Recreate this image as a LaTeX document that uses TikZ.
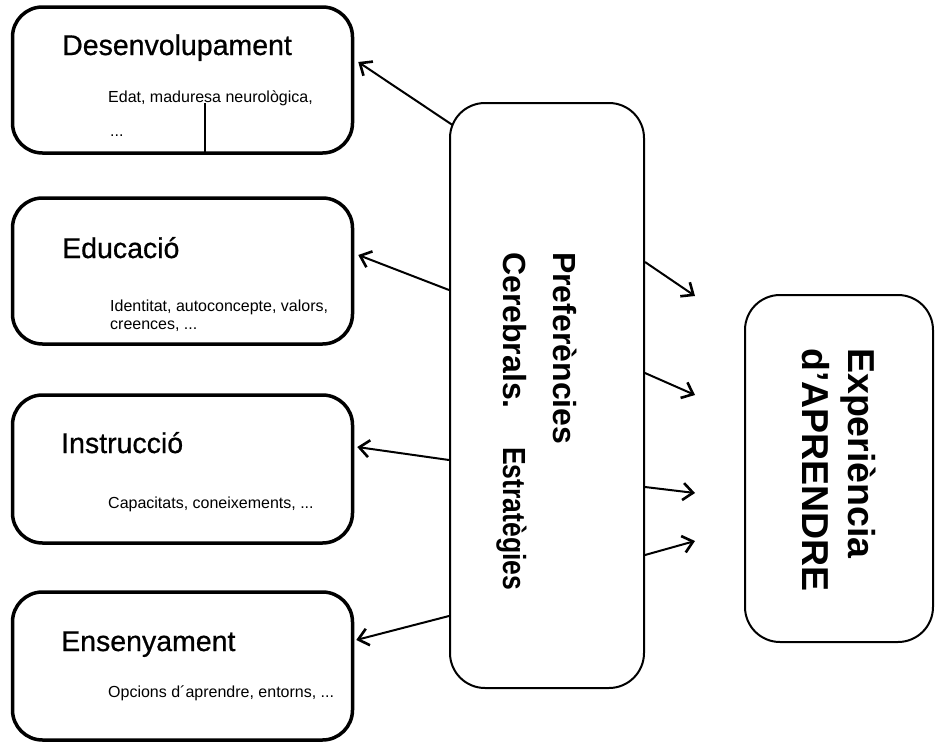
\documentclass[tikz,border=0pt]{standalone}
\usepackage{fontspec}
\setmainfont{Liberation Sans}
\newfontfamily\headfont{Liberation Sans}[FakeBold=0.7]
\usetikzlibrary{arrows.meta,calc}
\begin{document}
\begin{tikzpicture}[x=1pt,y=-1pt,
  factor/.style={draw, line width=3.5pt, rounded corners=30pt, inner sep=0pt, minimum width=340pt},
  hub/.style={draw, line width=2pt, rounded corners=35pt, inner sep=0pt},
  title/.style={anchor=base west, inner sep=0pt, font=\headfont\fontsize{28.5}{30}\selectfont},
  detail/.style={anchor=base west, inner sep=0pt, font=\fontsize{16}{18}\selectfont},
  vlabel/.style={anchor=base west, inner sep=0pt, rotate=-90},
  link/.style={line width=2pt, -{Straight Barb[length=10pt,width=17pt,line width=2.6pt]}}
]
\useasboundingbox (0,0) rectangle (935,742);

% four factor boxes on the left
\node[factor, minimum height=146pt] (b1) at (182.5,80) {};
\node[factor, minimum height=146pt] (b2) at (182.5,271) {};
\node[factor, minimum height=148pt] (b3) at (182.5,469) {};
\node[factor, minimum height=148pt] (b4) at (182.5,666) {};

% central box and the outcome box
\node[hub, minimum width=194pt, minimum height=585pt] (mid) at (547,395.5) {};
\node[hub, minimum width=188pt, minimum height=347pt] (goal) at (839,468.5) {};

% box titles and details
\node[title] (t1) at (62,55) {Desenvolupament};
\node[detail] (s1) at (108,102) {Edat, maduresa neurològica,};
\node[detail] (s1b) at (110,136) {...};
\node[title] (t2) at (62,258) {Educació};
\node[detail] (s2) at (110,311) {Identitat, autoconcepte, valors,};
\node[detail] (s2b) at (110,329) {creences, ...};
\node[title] (t3) at (61,453) {Instrucció};
\node[detail] (s3) at (108,508) {Capacitats, coneixements, ...};
\node[title] (t4) at (61,651) {Ensenyament};
\node[detail] (s4) at (108,697) {Opcions d´aprendre, entorns, ...};

% short stroke under the first detail line
\coordinate (tick) at (205,103);
\draw[line width=2pt] (tick) -- (tick |- b1.south);

% vertical labels
\node[vlabel, font=\fontsize{32}{34}\bfseries] (p1) at (553,252) {Preferències};
\node[vlabel, font=\fontsize{32}{34}\bfseries] (p2) at (503,252) {Cerebrals.};
\node[vlabel, font=\fontsize{32}{34}\bfseries] (p3) at (503,447) {\scalebox{0.83}[1]{Estratègies}};
\node[vlabel, font=\fontsize{37.5}{40}\bfseries] (g1) at (848,348) {Experiència};
\node[vlabel, font=\fontsize{37.5}{40}\bfseries] (g2) at (802,348) {d'APRENDRE};

% arrows to the factor boxes
\draw[link] ([xshift=3.5pt,yshift=270.5pt]mid.west) -- ([xshift=4pt,yshift=18pt]b1.east);
\draw[link] ([yshift=105.5pt]mid.west) -- ([xshift=4pt,yshift=16pt]b2.east);
\draw[link] ([yshift=-64.5pt]mid.west) -- ([xshift=3pt,yshift=22pt]b3.east);
\draw[link] ([yshift=-220.5pt]mid.west) -- ([xshift=2pt,yshift=26pt]b4.east);

% arrows towards the outcome
\coordinate (r1) at (695,296);
\coordinate (r2) at (695,395);
\coordinate (r3) at (695,493);
\coordinate (r4) at (695,541);
\draw[link] ([yshift=133.5pt]mid.east) -- (r1);
\draw[link] ([yshift=22.5pt]mid.east) -- (r2);
\draw[link] ([yshift=-91.5pt]mid.east) -- (r3);
\draw[link] ([yshift=-159.5pt]mid.east) -- (r4);
\end{tikzpicture}
\end{document}
